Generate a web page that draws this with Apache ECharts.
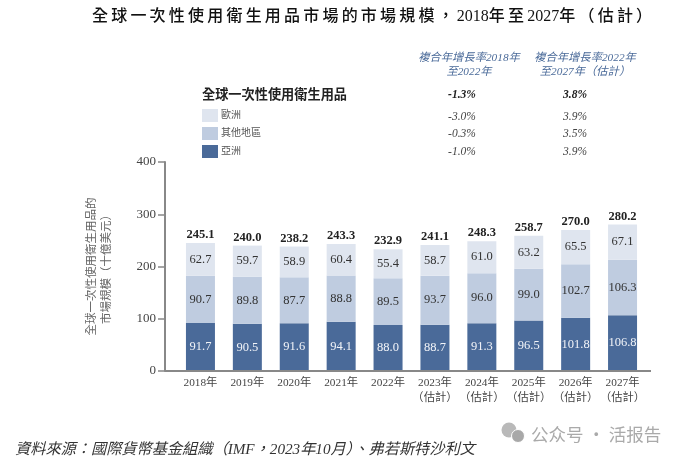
<!DOCTYPE html>
<html><head><meta charset="utf-8">
<style>html,body{margin:0;padding:0;background:#fff}#c{width:684px;height:462px}</style>
<script src="https://cdn.jsdelivr.net/npm/echarts@6/dist/echarts.min.js"></script>
</head><body><div id="c"></div>
<script>
const EST='\n\uFF08估計\uFF09';
const categories=['2018年','2019年','2020年','2021年','2022年','2023年'+EST,'2024年'+EST,'2025年'+EST,'2026年'+EST,'2027年'+EST];
const asia=[91.7,90.5,91.6,94.1,88.0,88.7,91.3,96.5,101.8,106.8];
const other=[90.7,89.8,87.7,88.8,89.5,93.7,96.0,99.0,102.7,106.3];
const europe=[62.7,59.7,58.9,60.4,55.4,58.7,61.0,63.2,65.5,67.1];
const totals=[245.1,240.0,238.2,243.3,232.9,241.1,248.3,258.7,270.0,280.2];
const cagrHeaders=['複合年增長率2018年\n至2022年','複合年增長率2022年\n至2027年\uFF08估計\uFF09'];
const cagrTotal=['-1.3%','3.8%'];
const cagrEurope=['-3.0%','3.9%'];
const cagrOther=['-0.3%','3.5%'];
const cagrAsia=['-1.0%','3.9%'];
const SERIF='"Liberation Serif","Noto Sans CJK TC",serif';
const CJK='"Liberation Serif","Noto Sans CJK TC",sans-serif';
const fmt=v=>v.value.toFixed(1);
const spaced=s=>s.replace(/([^\d])(?=.)/gu,'$1\u2009');
function bar(name,data,color,labelColor){
  return {name,type:'bar',stack:'t',data,barWidth:29,itemStyle:{color},
    label:{show:true,position:'inside',color:labelColor,fontFamily:SERIF,fontSize:12.5,formatter:fmt}};
}
function txt(x,y,text,o){
  return {type:'text',x,y,silent:true,style:Object.assign({text,fontFamily:CJK,fontSize:11,fill:'#333',align:'center',verticalAlign:'middle'},o||{})};
}
const tableRows=[[95,cagrTotal,true],[116.5,cagrEurope,false],[134,cagrOther,false],[152,cagrAsia,false]];
const g=[
 txt(92,17,spaced('全球一次性使用衛生用品市場的市場規模\uFF0C2018年至2027年\uFF08估計\uFF09'),{align:'left',fontSize:16,fontWeight:500,fill:'#111'}),
 txt(469,65,cagrHeaders[0],{fontStyle:'italic',fontSize:11.3,fill:'#4a6a99',lineHeight:14.5}),
 txt(585,65,cagrHeaders[1],{fontStyle:'italic',fontSize:11.3,fill:'#4a6a99',lineHeight:14.5}),
 txt(202,95.5,'全球一次性使用衛生用品',{align:'left',fontSize:13.2,fontWeight:'bold',fill:'#222'}),
 txt(15,450,'資料來源\uFF1A國際貨幣基金組織\uFF08IMF\uFF0C2023年10月\uFF09、弗若斯特沙利文',{align:'left',fontStyle:'italic',fontSize:15.2,fill:'#333'}),
 {type:'line',silent:true,shape:{x1:165,y1:371,x2:651,y2:371},style:{stroke:'#888',lineWidth:2},z:5},
 {type:'circle',silent:true,shape:{cx:509,cy:430,r:7.5},style:{fill:'#b9b9b9'}},
 {type:'circle',silent:true,shape:{cx:518,cy:436,r:6.5},style:{fill:'#a8a8a8',stroke:'#fff',lineWidth:1}},
 txt(531,434,'公众号 · 活报告',{align:'left',fontFamily:'"Noto Sans CJK SC",sans-serif',fontSize:17.5,fill:'#aaa'})
];
tableRows.forEach(([y,vals,b])=>{
  g.push(txt(462,y,vals[0],{fontFamily:SERIF,fontStyle:'italic',fontWeight:b?'bold':'normal',fontSize:11.5,fill:b?'#222':'#444'}));
  g.push(txt(575,y,vals[1],{fontFamily:SERIF,fontStyle:'italic',fontWeight:b?'bold':'normal',fontSize:11.5,fill:b?'#222':'#444'}));
});
const chart=echarts.init(document.getElementById('c'),null,{renderer:'canvas'});
chart.setOption({
 animation:false,backgroundColor:'#fff',
 grid:{left:177,right:38,top:162,bottom:91,containLabel:false},
 legend:{left:202,top:109,padding:0,orient:'vertical',itemWidth:16,itemHeight:13,itemGap:5,icon:'rect',selectedMode:false,
   data:['歐洲','其他地區','亞洲'],textStyle:{fontFamily:CJK,fontSize:10,color:'#555',padding:[2,0,0,-2]}},
 xAxis:{type:'category',data:categories,axisTick:{show:false},axisLine:{show:false},
   axisLabel:{fontFamily:CJK,fontSize:11.3,color:'#444',margin:5,lineHeight:15,interval:0}},
 yAxis:{type:'value',min:0,max:400,interval:100,offset:12,splitLine:{show:false},
   axisLine:{show:true,lineStyle:{color:'#888',width:2}},
   axisTick:{show:true,length:7,lineStyle:{color:'#888',width:1.5}},
   axisLabel:{fontFamily:SERIF,fontSize:13,color:'#444',margin:9},
   name:'全球一次性使用衛生用品的\n市場規模\uFF08十億美元\uFF09',nameLocation:'middle',nameRotate:90,nameGap:51,
   nameTextStyle:{fontFamily:CJK,fontSize:11.5,color:'#666',lineHeight:15}},
 series:[
  bar('亞洲',asia,'#4a6a99','#f2f4f8'),
  bar('其他地區',other,'#bfcce0','#333'),
  bar('歐洲',europe,'#dfe5ef','#333'),
  {name:'合計',type:'line',data:totals,symbol:'circle',symbolSize:0,showSymbol:true,lineStyle:{width:0,color:'transparent'},itemStyle:{color:'transparent'},
   label:{show:true,position:'top',distance:2,color:'#222',fontFamily:SERIF,fontWeight:'bold',fontSize:12.5,formatter:fmt},z:6}
 ],
 graphic:g
});
</script></body></html>
